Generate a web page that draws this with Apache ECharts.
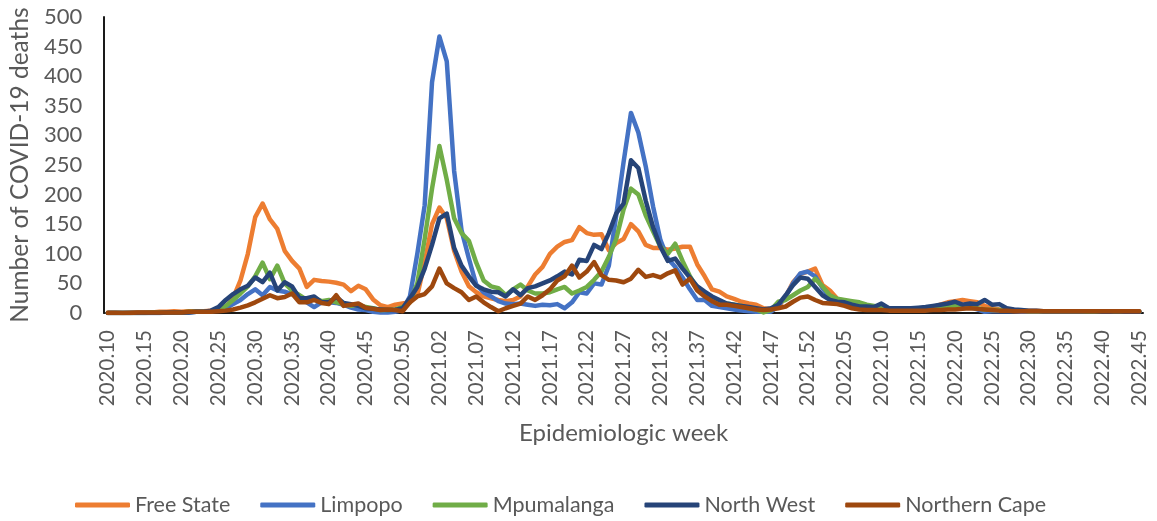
<!DOCTYPE html>
<html>
<head>
<meta charset="utf-8">
<script src="https://cdn.jsdelivr.net/npm/echarts@6/dist/echarts.min.js"></script>
<style>
html,body{margin:0;padding:0;background:#fff;}
#chart{width:1157px;height:521px;}
</style>
</head>
<body>
<div id="chart"></div>
<script>
// Epidemiologic weeks: 2020.10–2020.53, 2021.01–2021.52, 2022.01–2022.45
var weekRanges = [[2020, 10, 53], [2021, 1, 52], [2022, 1, 45]];
var categories = [];
weekRanges.forEach(function (r) {
  for (var w = r[1]; w <= r[2]; w++) {
    categories.push(r[0] + '.' + (w < 10 ? '0' + w : '' + w));
  }
});

var seriesNames = ['Free State', 'Limpopo', 'Mpumalanga', 'North West', 'Northern Cape'];
var seriesColors = ['#ED7D31', '#4472C4', '#70AD47', '#264478', '#9E480E'];

var freeState = [
  1,1,0,1,1,1,1,2,2,3, 2,3,3,3,4,5,10,25,55,100,
  162,185,158,142,105,88,75,44,56,54, 53,51,48,37,46,40,23,13,10,14,
  16,18,30,85,150,178,160,105,70,45, 35,28,25,22,20,22,28,45,65,78,
  100,112,120,123,145,135,132,133,106,118, 125,150,138,115,110,110,107,109,112,112,
  82,62,40,36,28,24,19,16,14,8, 6,10,28,52,66,70,75,47,38,24,
  20,16,14,12,10,9,8,8,7,6, 6,7,10,14,18,20,22,20,18,12,
  8,6,5,5,4,4,4,3,3,3, 3,3,3,2,2,2,3,2,2,3, 2
];
var limpopo = [
  0,0,0,0,0,0,0,0,1,1, 1,1,2,2,3,4,8,15,22,32,
  40,30,44,38,36,32,26,18,10,18, 18,17,14,9,6,5,2,1,1,2,
  5,28,100,182,390,467,425,240,140,92, 48,35,28,20,16,15,16,14,12,14,
  13,15,8,18,35,33,50,48,80,165, 255,338,305,248,180,123,92,78,60,40,
  22,22,12,10,8,6,4,3,2,2, 2,12,28,50,67,70,62,42,26,22,
  18,16,14,12,10,8,6,5,5,4, 4,5,6,8,10,12,12,10,6,2,
  3,3,3,3,2,2,2,2,2,2, 2,2,2,2,2,2,2,2,2,2, 2
];
var mpumalanga = [
  0,0,0,0,0,0,1,1,1,1, 1,2,2,2,3,5,12,22,33,45,
  62,85,57,80,50,38,30,22,25,20, 22,18,15,12,14,10,8,5,5,6,
  10,18,50,125,210,282,225,160,135,122, 85,55,45,42,30,40,48,38,33,33,
  35,40,44,33,38,44,56,70,95,125, 175,210,200,165,138,112,100,117,88,62,
  42,32,25,18,16,14,12,8,6,1, 5,19,22,30,38,44,58,45,30,24,
  22,20,18,14,12,10,8,8,6,6, 5,5,6,8,10,12,12,10,8,6,
  5,5,4,4,4,3,3,3,3,3, 3,3,3,2,2,2,2,2,2,2, 2
];
var northWest = [
  0,0,0,0,0,0,0,0,1,1, 1,1,2,2,4,10,22,32,40,46,
  60,52,68,38,52,45,25,25,28,18, 18,27,17,15,12,8,7,6,5,5,
  8,25,44,75,115,160,168,110,80,62, 46,40,36,35,28,40,30,42,45,50,
  55,62,70,65,90,88,115,108,135,168, 185,258,245,190,145,112,88,92,75,60,
  45,36,28,22,16,14,12,10,8,6, 8,14,30,47,60,58,44,30,22,19,
  18,14,11,11,10,16,8,8,8,8, 9,10,12,14,16,19,14,16,15,22,
  14,15,8,6,5,4,4,3,3,3, 3,3,3,3,3,2,2,3,2,2, 2
];
var northernCape = [
  0,0,0,0,1,1,1,1,1,1, 1,2,2,2,2,3,4,6,9,13,
  18,24,30,25,27,33,18,18,22,17, 15,30,12,14,16,9,7,5,6,5,
  3,18,28,32,45,75,50,42,35,22, 28,18,10,3,8,12,16,28,22,30,
  40,55,62,80,60,70,86,64,56,55, 52,58,73,61,64,60,67,72,48,58,
  38,28,20,14,14,12,10,8,6,5, 6,8,11,19,26,28,22,17,16,15,
  12,8,6,5,5,5,4,4,4,4, 4,4,5,5,6,6,7,8,7,6,
  5,4,4,3,3,3,3,3,3,3, 3,3,3,3,3,3,3,3,3,3, 3
];
var seriesData = [freeState, limpopo, mpumalanga, northWest, northernCape];

var yMin = 0, yMax = 500, yStep = 50;
var FONT = 'Lato, "Open Sans", sans-serif';
var TXT = '#595959';

var chart = echarts.init(document.getElementById('chart'), null, {renderer: 'canvas'});
chart.setOption({
  animation: false,
  backgroundColor: '#ffffff',
  color: seriesColors,
  grid: {left: 101, right: 14, top: 17, bottom: 208, containLabel: false},
  legend: {
    data: seriesNames,
    left: 70, top: 489,
    icon: 'roundRect',
    itemWidth: 55, itemHeight: 5,
    itemGap: 30,
    textStyle: {fontFamily: FONT, fontSize: 21.5, color: TXT}
  },
  xAxis: {
    type: 'category',
    data: categories,
    boundaryGap: true,
    name: 'Epidemiologic week',
    nameLocation: 'middle',
    nameGap: 108,
    nameTextStyle: {fontFamily: FONT, fontSize: 24, color: TXT},
    axisLine: {lineStyle: {color: '#1a1a1a', width: 2}},
    axisTick: {show: false},
    axisLabel: {interval: 4, rotate: 90, margin: 17, fontFamily: FONT, fontSize: 20.5, color: TXT},
    splitLine: {show: false}
  },
  yAxis: {
    type: 'value',
    min: yMin, max: yMax, interval: yStep,
    name: 'Number of COVID-19 deaths',
    nameLocation: 'middle',
    nameGap: 70,
    nameTextStyle: {fontFamily: FONT, fontSize: 24.5, color: TXT},
    axisLine: {show: true, lineStyle: {color: '#1a1a1a', width: 2}},
    axisTick: {show: false},
    axisLabel: {margin: 22, fontFamily: FONT, fontSize: 22, color: TXT},
    splitLine: {show: false}
  },
  series: seriesNames.map(function (n, k) {
    return {
      name: n, type: 'line', data: seriesData[k],
      showSymbol: false, symbol: 'none',
      lineStyle: {width: 4.5, color: seriesColors[k], cap: 'round', join: 'round'},
      itemStyle: {color: seriesColors[k]}
    };
  })
});
</script>
</body>
</html>
